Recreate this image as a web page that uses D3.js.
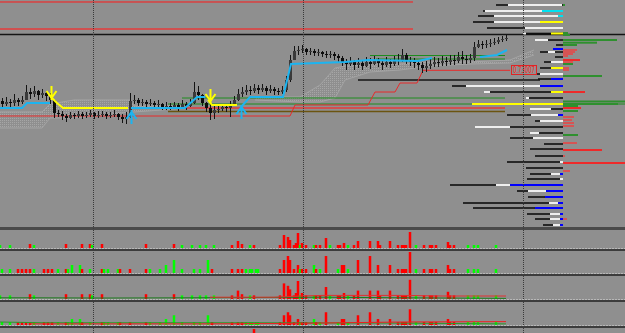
<!DOCTYPE html>
<html>
  <head>
    <title>Price chart</title>
    <meta charset="utf-8" />
    <script src="https://d3js.org/d3.v7.min.js"></script>
    <style>
      body {
        margin: 0;
        background: #8f8f8f;
      }
      svg {
        display: block;
      }
    </style>
  </head>
  <body>
  <script>
    // ---- price bars (one every 4px), open = previous close ----
    var firstOpen = 0.727;
    var closes = [
      0.7267, 0.7269, 0.7268, 0.7271, 0.7269, 0.7271, 0.7279, 0.7277, 0.728, 0.7276,
      0.7278, 0.7275, 0.7271, 0.7258, 0.7257, 0.7255, 0.7253, 0.7256, 0.7255, 0.7257,
      0.7255, 0.7256, 0.7258, 0.7255, 0.7256, 0.7257, 0.7255, 0.7256, 0.7257, 0.7254,
      0.7252, 0.7254, 0.727, 0.7271, 0.7268, 0.7269, 0.7267, 0.7268, 0.7266, 0.7267,
      0.7264, 0.7265, 0.7264, 0.7266, 0.7264, 0.7267, 0.7265, 0.7268, 0.7279, 0.7276,
      0.7268, 0.7263, 0.7258, 0.7261, 0.7262, 0.7264, 0.7263, 0.7266, 0.7271, 0.7277,
      0.7279, 0.7281, 0.728, 0.7283, 0.7281, 0.7283, 0.728, 0.7282, 0.728, 0.7279,
      0.7281, 0.7291, 0.7311, 0.732, 0.7321, 0.7322, 0.7319, 0.732, 0.7318, 0.7319,
      0.7317, 0.7316, 0.7317, 0.7315, 0.7313, 0.7309, 0.7307, 0.731, 0.7306, 0.7308,
      0.7305, 0.7309, 0.7307, 0.7311, 0.7308, 0.7306, 0.7309, 0.7307, 0.731, 0.7311,
      0.7316, 0.7311, 0.7309, 0.7308, 0.7306, 0.7303, 0.7305, 0.7307, 0.7309, 0.7308,
      0.731, 0.7309, 0.7311, 0.731, 0.7314, 0.7312, 0.7311, 0.7313, 0.7324, 0.7327,
      0.7326, 0.7327, 0.7328, 0.7329, 0.7331, 0.7332, 0.7333
    ];
    var highs = [
      0.7273, 0.7274, 0.7272, 0.7277, 0.7273, 0.7275, 0.7286, 0.7283, 0.7285, 0.7281,
      0.7282, 0.728, 0.7278, 0.7271, 0.7261, 0.726, 0.7257, 0.7259, 0.7258, 0.726,
      0.7259, 0.7259, 0.7261, 0.7259, 0.726, 0.726, 0.7259, 0.7259, 0.7261, 0.7258,
      0.7257, 0.7259, 0.7278, 0.7276, 0.7273, 0.7272, 0.7271, 0.7272, 0.727, 0.7271,
      0.7268, 0.7269, 0.7268, 0.7269, 0.7268, 0.7271, 0.7269, 0.7272, 0.7289, 0.7285,
      0.7277, 0.7269, 0.7267, 0.7265, 0.7266, 0.7267, 0.7267, 0.727, 0.7275, 0.7282,
      0.7284, 0.7286, 0.7285, 0.7287, 0.7286, 0.7287, 0.7285, 0.7286, 0.7284, 0.7283,
      0.7285, 0.7295, 0.7316, 0.7325, 0.7325, 0.7326, 0.7323, 0.7323, 0.7322, 0.7322,
      0.732, 0.732, 0.732, 0.7319, 0.7317, 0.7315, 0.7312, 0.7314, 0.7311, 0.7313,
      0.7311, 0.7314, 0.7313, 0.7315, 0.7313, 0.7311, 0.7314, 0.7312, 0.7315, 0.7317,
      0.7322, 0.7318, 0.7314, 0.7313, 0.7311, 0.7309, 0.731, 0.7312, 0.7314, 0.7313,
      0.7315, 0.7314, 0.7316, 0.7316, 0.7319, 0.732, 0.7316, 0.7317, 0.7329, 0.7331,
      0.733, 0.7331, 0.7332, 0.7333, 0.7334, 0.7335, 0.7336
    ];
    var lows = [
      0.7263, 0.7265, 0.7264, 0.7265, 0.7265, 0.7267, 0.7271, 0.7272, 0.7274, 0.7271,
      0.7273, 0.727, 0.7267, 0.7253, 0.7254, 0.7251, 0.7249, 0.7252, 0.7252, 0.7253,
      0.7252, 0.7253, 0.7254, 0.7252, 0.7253, 0.7254, 0.7252, 0.7253, 0.7254, 0.7251,
      0.7248, 0.7247, 0.7253, 0.7267, 0.7265, 0.7265, 0.7264, 0.7265, 0.7263, 0.7264,
      0.7261, 0.7261, 0.7261, 0.7262, 0.726, 0.7263, 0.7261, 0.7264, 0.7267, 0.7271,
      0.7265, 0.7259, 0.7251, 0.7252, 0.7258, 0.726, 0.7259, 0.7254, 0.7265, 0.727,
      0.7274, 0.7276, 0.7276, 0.7278, 0.7277, 0.7279, 0.7276, 0.7278, 0.7276, 0.7276,
      0.7277, 0.7279, 0.7289, 0.7311, 0.7316, 0.7318, 0.7316, 0.7316, 0.7315, 0.7315,
      0.7314, 0.7313, 0.7313, 0.7311, 0.7309, 0.7305, 0.7301, 0.7305, 0.7301, 0.7303,
      0.7301, 0.7304, 0.7302, 0.7306, 0.7304, 0.7301, 0.7304, 0.7303, 0.7305, 0.7306,
      0.7309, 0.7307, 0.7305, 0.7303, 0.7301, 0.7298, 0.7299, 0.7302, 0.7304, 0.7304,
      0.7305, 0.7305, 0.7306, 0.7306, 0.7308, 0.7307, 0.7307, 0.7308, 0.731, 0.7323,
      0.7322, 0.7323, 0.7324, 0.7326, 0.7327, 0.7329, 0.733
    ];

    // day separators (bar index)
    var gridT = [22.75, 75.25, 130.25];

    // horizontal levels
    var levelP = [0.7369, 0.7342, 0.73365, 0.7291, 0.73155, 0.7312, 0.7273, 0.7267, 0.7263, 0.72595];
    var levelT0 = [-1, -1, -1, 89, 92, 93.5, 45, 41.5, 41.5, 41.5];
    var levelT1 = [102.75, 102.75, 160, 134.5, 125.75, 125.75, 125.75, 160, 125.75, 125.75];
    var levelKind = ["red", "salmon", "black", "black", "green", "green", "green", "green", "salmon", "brown"];

    // trailing stop
    var stopT = [-0.5, 72, 73.25, 91.5, 93.25, 98.25, 99.5, 103.75, 105.25, 127];
    var stopP = [0.7255, 0.7255, 0.7266, 0.7266, 0.7279, 0.7279, 0.7288, 0.7288, 0.73007, 0.73007];

    // trend line segments
    var upAT = [-0.5, 5, 6.25, 12];
    var upAP = [0.7263, 0.7263, 0.7268, 0.7268];
    var dnAT = [12.25, 13.75, 15.25, 31.5];
    var dnAP = [0.7274, 0.7268, 0.7263, 0.7263];
    var upBT = [32.25, 45.75, 48.75, 50.75];
    var upBP = [0.7263, 0.7263, 0.7274, 0.7274];
    var dnBT = [51.5, 52.5, 58.75];
    var dnBP = [0.7271, 0.7266, 0.7266];
    var upCT = [59.75, 62, 70.25, 72.25, 85.75, 91.5, 104, 107.5];
    var upCP = [0.7264, 0.7274, 0.7274, 0.7307, 0.7309, 0.7311, 0.731, 0.7313];
    var upDT = [119.5, 123.75, 126.25];
    var upDP = [0.7314, 0.7316, 0.7321];

    // signal arrows
    var sigT = [12.25, 32.25, 52, 59.75];
    var sigP = [0.7271, 0.7261, 0.7268, 0.7266];
    var sigDir = ["down", "up", "down", "up"];

    // cloud
    var cloud1T = [-0.5, 10, 12, 18, 32, 33, 40, 45];
    var cloud1A = [0.7259, 0.7259, 0.7267, 0.7271, 0.7271, 0.7265, 0.7265, 0.7265];
    var cloud1B = [0.7243, 0.7243, 0.7253, 0.7253, 0.7259, 0.7259, 0.7261, 0.7263];
    var cloud2T = [63.25, 74.5, 79.5, 83.25, 85.75, 92, 99.5, 107, 117, 127, 133];
    var cloud2A = [0.7274, 0.7274, 0.7286, 0.7303, 0.7305, 0.7306, 0.7307, 0.7309, 0.7309, 0.7311, 0.7321];
    var cloud2B = [0.7271, 0.7269, 0.7269, 0.7273, 0.7291, 0.7299, 0.7301, 0.7305, 0.7307, 0.7308, 0.7316];

    // volume profile rows
    var profP = [0.7366, 0.736, 0.7355, 0.7349, 0.7343, 0.73375, 0.7331, 0.7326, 0.7322, 0.7319,
      0.7314, 0.7309, 0.7303, 0.7297, 0.7292, 0.7285, 0.7279, 0.7273, 0.7267, 0.7262,
      0.7256, 0.725, 0.7244, 0.7238, 0.7233, 0.7227, 0.7222, 0.7215, 0.7209, 0.7203,
      0.7197, 0.7192, 0.7186, 0.718, 0.7174, 0.7168, 0.7163, 0.7157, 0.7152, 0.7146];
    var profTotal = [67, 80, 85, 90, 76, 40, 28, 7, 10, 23, 8, 19, 23, 33, 25, 111, 79, 37, 91, 33,
      56, 28, 88, 33, 53, 19, 33, 28, 56, 37, 33, 36, 113, 46, 35, 100, 90, 36, 28, 20];
    var profW0 = [1, 21, 5, 23, 0, 37, 15, 0, 0, 8, 0, 0, 0, 0, 0, 23, 73, 34, 0, 12,
      5, 0, 53, 24, 0, 0, 0, 0, 0, 0, 3, 0, 53, 17, 0, 5, 0, 3, 3, 3];
    var profW1 = [55, 78, 69, 69, 38, 40, 28, 0, 0, 15, 0, 12, 0, 23, 0, 97, 79, 37, 0, 33,
      32, 23, 88, 33, 30, 0, 0, 0, 3, 0, 12, 3, 67, 35, 0, 14, 0, 13, 13, 10];
    var profC = [0, 21, 5, 23, 0, 12, 0, 0, 10, 0, 0, 0, 12, 0, 12, 23, 12, 0, 91, 0,
      5, 0, 0, 0, 0, 0, 0, 0, 0, 0, 3, 0, 53, 17, 18, 5, 28, 3, 3, 3];
    var profTag = ["", "c", "c", "y", "", "y", "", "", "b", "", "", "", "y", "", "b", "b", "y", "", "y", "",
      "b", "", "", "", "", "", "", "", "", "", "b", "", "b", "b", "b", "b", "b", "b", "b", "b"];

    // delta per level (+ buy, - sell)
    var deltaP = [0.7366, 0.7338, 0.7336, 0.7331, 0.73283, 0.7326, 0.7321, 0.7319, 0.7317, 0.7315,
      0.7311, 0.7309, 0.7307, 0.7303, 0.7301, 0.7295, 0.7279, 0.72695, 0.7267, 0.7265,
      0.7263, 0.726, 0.7254, 0.7251, 0.7248, 0.7245, 0.7236, 0.7228, 0.7221, 0.7215,
      0.7208, 0.72, 0.7152];
    var deltaV = [2, 5, 7, 54, 34, 14, -14, -12, -10, -5, -17, -10, 10, -6, -6, 39, -22, 62, 55, 15,
      -18, 15, -11, -9, -11, -11, 15, -14, -39, -2, -62, -7, -4];

    // histograms (bar index, signed value)
    var h1T = [-0.5, 2, 7, 8, 16, 20, 22, 22.5, 25, 36, 43, 45, 47.5, 49.5, 51, 53, 57.5, 59, 60, 62,
      63, 69.5, 70.5, 71.5, 72, 73, 73.5, 74, 74.5, 75, 76, 78, 78.5, 79.5, 81, 82, 84, 84.5, 85.5, 86.5,
      88, 89, 92, 94, 94.5, 97, 99, 100, 100.5, 101, 102, 103.5, 105.5, 107, 107.5, 108.5, 111.5, 112, 113, 116.5,
      118, 119, 123.5];
    var h1V = [3, 3, -4, 3, -4, -4, -4, 3, -4, -4, -4, 3, 3, 3, 3, 3, -3, -7, -4, 3,
      -3, -3, -13, -11, -8, -3, -5, -15, 3, -5, -3, 3, -3, -3, -10, 3, -3, -3, -5, 3,
      -3, -7, -7, -7, -3, -7, -3, -3, -3, -3, -16, 3, -3, -3, -3, -3, -6, -3, -3, 3,
      3, 3, 3];
    var h2T = [0, 2, 4, 5, 6, 7, 8, 10.5, 11.5, 12.5, 14, 16, 16.5, 17.5, 19.5, 20, 22, 25, 25.5, 26.5,
      29, 29.5, 32, 36, 37, 39.5, 41, 43, 45, 48, 49.5, 51.5, 52.5, 57.5, 59, 60, 61, 62, 62.5, 63.5,
      64, 69.5, 70.5, 71.5, 72, 73, 74, 74.5, 75, 76, 78, 78.5, 79.5, 81, 84, 85, 85.5, 86.5, 89, 92,
      94, 97, 99, 100, 100.5, 101, 102, 103.5, 105.5, 107, 107.5, 108.5, 111.5, 112, 113, 116.5, 118, 119, 123.5];
    var h2V = [4, 4, -4, -4, -4, -4, 4, -4, -4, -4, 4, -4, 4, 8, 8, -4, 4, -4, 4, 4,
      4, -4, -4, -4, 4, 4, 8, 13, 4, 4, 4, 13, -4, -4, -4, -4, 4, 4, 4, 4,
      4, -4, -13, -17, -13, -4, -8, 4, -4, -4, 8, -4, 4, -17, 4, -8, -8, 4, -13, -17,
      -8, -8, -4, -4, -4, -4, -21, 4, -4, -4, -4, -4, -8, -4, -4, 4, 4, 4, 4];
    var h5T = [63];
    var h5V = [-5];

    // indicator lines in lower panels
    var p3RedT = [52, 58, 68, 75, 80, 90, 100, 110, 126];
    var p3RedV = [1.5, 1.5, 1.5, 2.5, 3, 3, 3, 2.5, 2.5];
    var p3GreenT = [-0.5, 8, 25, 47, 60, 80, 100, 126];
    var p3GreenV = [1, 1, 0.8, 1, 1.2, 1.5, 1, 0.5];
    var p4RedT = [7, 50, 70, 100, 126];
    var p4RedV = [1.5, 1.5, 2, 4, 4.5];
    var p4GreenT = [-0.5, 10, 50, 60, 100, 126];
    var p4GreenV = [4, 3, 3, 3, 2.5, 1.5];

    var W = 625,
      H = 333;
    var bg = "#8f8f8f";

    var svg = d3.select("body").append("svg").attr("width", W).attr("height", H);
    svg.append("rect").attr("width", W).attr("height", H).attr("fill", bg);

    var defs = svg.append("defs");
    var pat = defs
      .append("pattern")
      .attr("id", "dots")
      .attr("width", 2)
      .attr("height", 2)
      .attr("patternUnits", "userSpaceOnUse");
    pat.append("rect").attr("width", 1).attr("height", 1).attr("fill", "#a6a6a6");
    defs.append("clipPath").attr("id", "mainClip").append("rect").attr("width", W).attr("height", 227);

    var x = d3.scaleLinear().domain([0, 126]).range([2, 506]);
    var y = d3.scaleLinear().domain([0.7143, 0.7371]).range([228, 0]);

    var main = svg.append("g").attr("clip-path", "url(#mainClip)");

    // cloud
    function drawCloud(T, A, B) {
      var pts = T.map(function (t, i) {
        return { t: t, a: A[i], b: B[i] };
      });
      var area = d3
        .area()
        .x(function (d) { return x(d.t); })
        .y0(function (d) { return y(d.b); })
        .y1(function (d) { return y(d.a); });
      main.append("path").attr("d", area(pts)).attr("fill", "url(#dots)");
      ["a", "b"].forEach(function (k) {
        main
          .append("path")
          .attr("d", d3.line().x(function (d) { return x(d.t); }).y(function (d) { return y(d[k]); })(pts))
          .attr("fill", "none")
          .attr("stroke", "#a4a4a4")
          .attr("stroke-width", 1);
      });
    }
    drawCloud(cloud1T, cloud1A, cloud1B);
    drawCloud(cloud2T, cloud2A, cloud2B);

    // levels
    var levelColor = { red: "#ff1a1a", salmon: "#d05050", black: "#141414", green: "#1e8c1e", brown: "#6b5410" };
    var levelWidth = { red: 1, salmon: 2, black: 1.6, green: 1, brown: 1.5 };
    levelP.forEach(function (p, i) {
      main
        .append("line")
        .attr("x1", x(levelT0[i]))
        .attr("x2", x(levelT1[i]))
        .attr("y1", y(p))
        .attr("y2", y(p))
        .attr("stroke", levelColor[levelKind[i]])
        .attr("stroke-width", levelWidth[levelKind[i]]);
    });

    // stop line
    var stopPts = stopT.map(function (t, i) { return [x(t), y(stopP[i])]; });
    main
      .append("path")
      .attr("d", d3.line()(stopPts))
      .attr("fill", "none")
      .attr("stroke", "#e82a2a")
      .attr("stroke-width", 1);

    // candles
    var bars = closes.map(function (c, i) {
      return { i: i, o: i ? closes[i - 1] : firstOpen, c: c, h: highs[i], l: lows[i] };
    });
    var cg = main.append("g");
    cg.selectAll("line")
      .data(bars)
      .enter()
      .append("line")
      .attr("x1", function (d) { return Math.round(x(d.i)) + 0.5; })
      .attr("x2", function (d) { return Math.round(x(d.i)) + 0.5; })
      .attr("y1", function (d) { return y(d.h); })
      .attr("y2", function (d) { return y(d.l); })
      .attr("stroke", "#141414");
    cg.selectAll("rect")
      .data(bars)
      .enter()
      .append("rect")
      .attr("x", function (d) { return Math.round(x(d.i)) - 1; })
      .attr("width", 3)
      .attr("y", function (d) { return y(Math.max(d.o, d.c)); })
      .attr("height", function (d) { return Math.max(1, Math.abs(y(d.o) - y(d.c))); })
      .attr("fill", function (d) { return d.c >= d.o ? "#3a3a3a" : "#0c0c0c"; });

    // trend segments
    function seg(T, P, col) {
      var pts = T.map(function (t, i) { return [x(t), y(P[i])]; });
      main
        .append("path")
        .attr("d", d3.line()(pts))
        .attr("fill", "none")
        .attr("stroke", col)
        .attr("stroke-width", 2);
    }
    var upCol = "#1cb4f0",
      dnCol = "#ffff00";
    seg(upAT, upAP, upCol);
    seg(dnAT, dnAP, dnCol);
    seg(upBT, upBP, upCol);
    seg(dnBT, dnBP, dnCol);
    seg(upCT, upCP, upCol);
    seg(upDT, upDP, upCol);

    // arrows
    sigT.forEach(function (t, i) {
      var ax = Math.round(x(t)) + 0.5,
        ay = y(sigP[i]);
      var s = sigDir[i] === "down" ? -1 : 1;
      var d =
        "M" + ax + "," + (ay + s * 14) + "L" + ax + "," + ay +
        "M" + (ax - 5) + "," + (ay + s * 9) + "L" + ax + "," + (ay + s * 2) + "L" + (ax + 5) + "," + (ay + s * 9);
      main
        .append("path")
        .attr("d", d)
        .attr("fill", "none")
        .attr("stroke", sigDir[i] === "down" ? dnCol : upCol)
        .attr("stroke-width", 2);
    });

    // volume profile
    var pBase = 563;
    var vlen = d3.scaleLinear().domain([0, 100]).range([0, 100]);
    var tagColor = { c: "#00e0f0", y: "#ffff00", b: "#0000ff" };
    var pg = main.append("g");
    profP.forEach(function (p, i) {
      var yy = y(p);
      pg.append("rect")
        .attr("x", pBase - vlen(profTotal[i]))
        .attr("y", yy - 0.8)
        .attr("width", vlen(profTotal[i]))
        .attr("height", 1.6)
        .attr("fill", "#101010");
      if (profW1[i] > profW0[i]) {
        pg.append("rect")
          .attr("x", pBase - vlen(profW1[i]))
          .attr("y", yy - 1)
          .attr("width", vlen(profW1[i]) - vlen(profW0[i]))
          .attr("height", 2)
          .attr("fill", "#eeeeee");
      }
      if (profC[i] > 0) {
        pg.append("rect")
          .attr("x", pBase - vlen(profC[i]))
          .attr("y", yy - 1)
          .attr("width", vlen(profC[i]))
          .attr("height", 2)
          .attr("fill", tagColor[profTag[i]]);
      }
    });

    // delta bars
    deltaP.forEach(function (p, i) {
      var v = deltaV[i];
      pg.append("rect")
        .attr("x", pBase)
        .attr("y", y(p) - 1)
        .attr("width", vlen(Math.abs(v)))
        .attr("height", 2)
        .attr("fill", v > 0 ? "#2f902f" : Math.abs(v) < 16 ? "#d65454" : "#ee2a2a");
    });

    // stop label
    var lp = stopP[stopP.length - 1];
    var lx = x(127.25);
    main
      .append("rect")
      .attr("x", lx + 0.5)
      .attr("y", Math.round(y(lp)) - 4.5)
      .attr("width", 25)
      .attr("height", 9)
      .attr("fill", bg)
      .attr("stroke", "#e02424");
    main
      .append("text")
      .attr("x", lx + 13)
      .attr("y", Math.round(y(lp)) + 3)
      .attr("text-anchor", "middle")
      .attr("font-family", "DejaVu Sans, sans-serif")
      .attr("font-size", 8)
      .attr("textLength", 22)
      .attr("lengthAdjust", "spacingAndGlyphs")
      .attr("fill", "#ff2020")
      .text(lp.toFixed(5));

    // lower panels
    var panels = [
      { base: 248, k: 1, T: h1T, V: h1V, lines: [] },
      { base: 273, k: 1, T: h2T, V: h2V, lines: [] },
      {
        base: 299, k: 1.2, T: h1T, V: h1V,
        lines: [[p3GreenT, p3GreenV, "#1d7a1d"], [p3RedT, p3RedV, "#e03030"]]
      },
      {
        base: 325, k: 0.75, T: h2T, V: h2V,
        lines: [[p4GreenT, p4GreenV, "#2a9a2a"], [p4RedT, p4RedV, "#ee2020"]]
      },
      { base: 334, k: 1, T: h5T, V: h5V, lines: [] }
    ];
    panels.forEach(function (pn) {
      var ys = d3.scaleLinear().domain([0, 1]).range([pn.base, pn.base - pn.k]);
      var g = svg.append("g");
      g.selectAll("rect")
        .data(pn.T.map(function (t, i) { return { t: t, v: pn.V[i] }; }))
        .enter()
        .append("rect")
        .attr("x", function (d) { return x(d.t) - 1.25; })
        .attr("width", 2.5)
        .attr("y", function (d) { return ys(Math.abs(d.v)); })
        .attr("height", function (d) { return pn.base - ys(Math.abs(d.v)); })
        .attr("fill", function (d) { return d.v > 0 ? "#00ff00" : "#ff0000"; });
      pn.lines.forEach(function (ln) {
        var pts = ln[0].map(function (t, i) { return [x(t), ys(ln[1][i])]; });
        g.append("path")
          .attr("d", d3.line()(pts))
          .attr("fill", "none")
          .attr("stroke", ln[2])
          .attr("stroke-width", 1);
      });
      if (pn.base < 333) {
        g.append("line")
          .attr("x1", 0)
          .attr("x2", W)
          .attr("y1", pn.base + 0.5)
          .attr("y2", pn.base + 0.5)
          .attr("stroke", "#b8b8b8")
          .attr("stroke-dasharray", "2,1");
      }
    });

    // separators
    var seps = [[227, 3], [249, 2], [274, 2], [300, 2], [326, 2]];
    seps.forEach(function (s, i) {
      svg.append("rect")
        .attr("x", 0)
        .attr("y", s[0])
        .attr("width", W)
        .attr("height", s[1])
        .attr("fill", i === 0 ? "#4a4a4a" : "#3c3c3c");
    });

    // vertical grid
    gridT.forEach(function (t) {
      var gx = Math.round(x(t)) + 0.5;
      svg.append("line")
        .attr("x1", gx)
        .attr("x2", gx)
        .attr("y1", 0)
        .attr("y2", H)
        .attr("stroke", "#3a3a3a")
        .attr("stroke-dasharray", "1,1");
    });
  </script>
  </body>
</html>
